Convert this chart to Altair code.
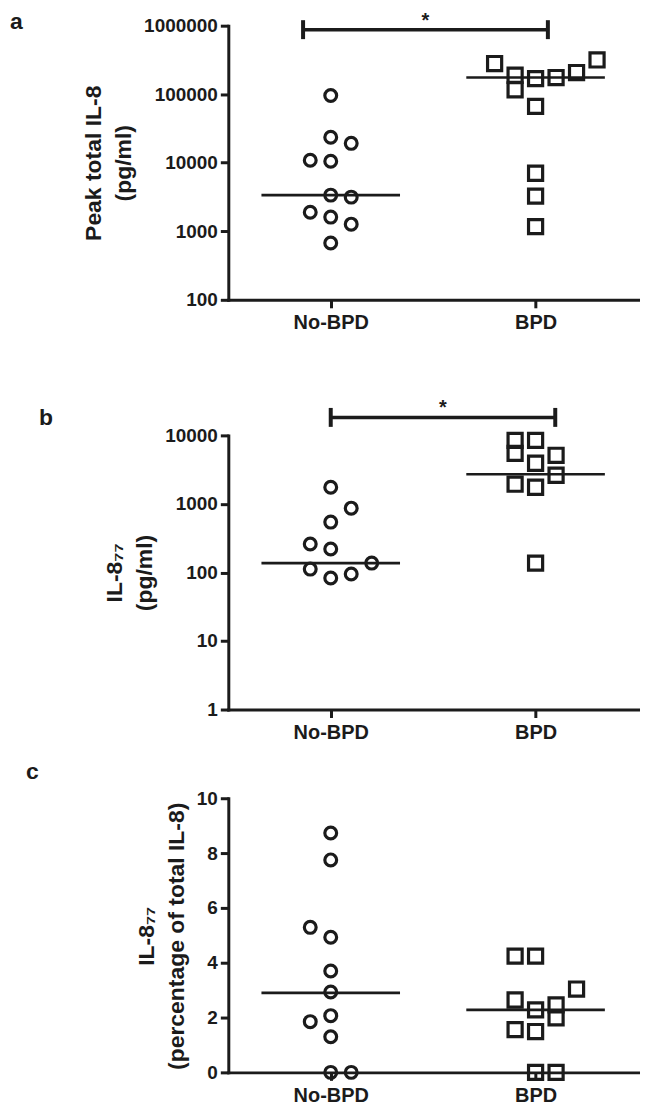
import altair as alt
import pandas as pd

CATEGORIES = ["No-BPD", "BPD"]
SHAPES = ["circle", "square"]

# ---- panel a : peak total IL-8 (pg/ml) ----
A_NOBPD = [96000, 23500, 19200, 10900, 10500, 3370, 3150, 1900, 1610, 1270, 675]
A_NOBPD_SLOT = [0, 0, 1, -1, 0, 0, 1, -1, 0, 1, 0]
A_BPD = [280000, 189000, 116000, 169000, 66400, 175000, 207000, 316000, 7030, 3260, 1170]
A_BPD_SLOT = [-2, -1, -1, 0, 0, 1, 2, 3, 0, 0, 0]
A_MEDIANS = [3370, 175000]
A_SIG = [0.865, 2.06, 875000]          # bar start, bar end, level
A_TICKS = [100, 1000, 10000, 100000, 1000000]

# ---- panel b : IL-8_77 (pg/ml) ----
B_NOBPD = [1750, 867, 543, 260, 220, 137, 112, 83, 95]
B_NOBPD_SLOT = [0, 1, 0, -1, 0, 2, -1, 0, 1]
B_BPD = [8460, 8460, 5470, 3920, 5120, 2620, 1940, 1750, 137]
B_BPD_SLOT = [-1, 0, -1, 0, 1, 1, -1, 0, 0]
B_MEDIANS = [137, 2710]
B_SIG = [1.0, 2.096, 18300]
B_TICKS = [1, 10, 100, 1000, 10000]

# ---- panel c : IL-8_77 (percentage of total IL-8) ----
C_NOBPD = [8.73, 7.75, 5.29, 4.93, 3.70, 2.93, 2.07, 1.85, 1.30, 0, 0]
C_NOBPD_SLOT = [0, 0, -1, 0, 0, 0, 0, -1, 0, 0, 1]
C_BPD = [4.24, 4.24, 3.04, 2.64, 2.46, 2.28, 1.99, 1.56, 1.49, 0, 0]
C_BPD_SLOT = [-1, 0, 2, -1, 1, 0, 1, -1, 0, 0, 1]
C_MEDIANS = [2.9, 2.28]
C_TICKS = [0, 2, 4, 6, 8, 10]

INK = "#1b1b1b"
FONT = "Liberation Sans"
LETTER_FONT = "Liberation Sans"
W = 411
SLOT_STEP = 0.1


def points_frame(nobpd, nobpd_slot, bpd, bpd_slot):
    rows = []
    for gi, (vals, slots) in enumerate([(nobpd, nobpd_slot), (bpd, bpd_slot)]):
        for v, s in zip(vals, slots):
            rows.append({"group": CATEGORIES[gi], "pos": gi + 1 + s * SLOT_STEP, "value": v})
    return pd.DataFrame(rows)


label_expr = " : ".join(
    f"datum.value == {i + 1} ? '{c}'" for i, c in enumerate(CATEGORIES)
) + " : ''"

XAXIS = dict(
    values=[1, 2], labelExpr=label_expr, title=None, grid=False,
    tickSize=8, tickWidth=3, tickColor=INK, domainWidth=3, domainColor=INK,
    domainCap="square", labelPadding=5, labelFont=FONT, labelFontSize=20,
    labelFontWeight="bold", labelColor=INK,
)

YAXIS = dict(
    grid=False, tickSize=8, tickWidth=3, tickColor=INK, domainWidth=3,
    domainColor=INK, domainCap="square", labelPadding=3, labelFont=FONT,
    labelFontSize=19, labelFontWeight="bold", labelColor=INK,
    titleFont=FONT, titleFontSize=23, titleFontWeight="bold", titleColor=INK,
    titleAngle=270, titleAlign="center", titleBaseline="middle",
    titleLineHeight=30,
)


def make_panel(letter, letter_xy, pts, medians, sig, yscale, yaxis_kw, height):
    xs = alt.Scale(domain=[0.5, 2.5], nice=False, zero=False)
    xax = alt.Axis(**XAXIS)
    yax = alt.Axis(**YAXIS, **yaxis_kw)

    def X(f):
        return alt.X(f, type="quantitative", scale=xs, axis=xax)

    def Y(f):
        return alt.Y(f, type="quantitative", scale=yscale, axis=yax)

    layers = []
    layers.append(
        alt.Chart(pts).mark_point(filled=False, strokeWidth=3.2, opacity=1, color=INK).encode(
            x=X("pos"), y=Y("value"),
            shape=alt.Shape("group:N", scale=alt.Scale(domain=CATEGORIES, range=SHAPES), legend=None),
            size=alt.Size("group:N", scale=alt.Scale(domain=CATEGORIES, range=[140, 200]), legend=None),
        )
    )
    med = pd.DataFrame({"pos": [1, 2], "median": medians})
    layers.append(
        alt.Chart(med).mark_tick(orient="horizontal", size=139, thickness=2.6,
                                 color=INK, opacity=1).encode(
            x=X("pos"), y=Y("median")
        )
    )
    if sig is not None:
        bar = pd.DataFrame({"x1": [sig[0]], "x2": [sig[1]], "level": [sig[2]]})
        layers.append(
            alt.Chart(bar).mark_rule(strokeWidth=3.5, color=INK, opacity=1).encode(
                x=X("x1"), x2=alt.X2("x2"), y=Y("level")
            )
        )
        caps = pd.DataFrame({"pos": [sig[0], sig[1]], "level": [sig[2], sig[2]]})
        layers.append(
            alt.Chart(caps).mark_tick(orient="vertical", size=19, thickness=4,
                                      color=INK, opacity=1).encode(
                x=X("pos"), y=Y("level")
            )
        )
        layers.append(
            alt.Chart(bar).transform_calculate(mid="(datum.x1 + datum.x2) / 2")
            .mark_text(text="*", font=FONT, fontSize=20, fontWeight="bold", color=INK,
                       baseline="alphabetic", dy=-3)
            .encode(x=X("mid"), y=Y("level"))
        )
    layers.append(
        alt.Chart(pd.DataFrame({"t": [letter]})).mark_text(
            align="left", baseline="alphabetic", font=LETTER_FONT, fontSize=23,
            fontWeight="bold", color=INK
        ).encode(text="t:N", x=alt.value(letter_xy[0]), y=alt.value(letter_xy[1]))
    )
    return alt.layer(*layers).properties(width=W, height=height)


panel_a = make_panel(
    "a", (-219, 3),
    points_frame(A_NOBPD, A_NOBPD_SLOT, A_BPD, A_BPD_SLOT), A_MEDIANS, A_SIG,
    alt.Scale(type="log", domain=[100, 1000000], nice=False),
    dict(values=A_TICKS, format="d", title=["Peak total IL-8", "(pg/ml)"],
         titleX=-135, titleY=137.5),
    275,
)

panel_b = make_panel(
    "b", (-190, 37),
    points_frame(B_NOBPD, B_NOBPD_SLOT, B_BPD, B_BPD_SLOT), B_MEDIANS, B_SIG,
    alt.Scale(type="log", domain=[1, 10000], nice=False, range=[322, 47]),
    dict(values=B_TICKS, format="d", title=["IL-8\u2087\u2087", "(pg/ml)"],
         titleX=-114, titleY=184.5),
    322,
)

panel_c = make_panel(
    "c", (-203, -19),
    points_frame(C_NOBPD, C_NOBPD_SLOT, C_BPD, C_BPD_SLOT), C_MEDIANS, None,
    alt.Scale(domain=[0, 10], nice=False, zero=True),
    dict(values=C_TICKS, format="d", title=["IL-8\u2087\u2087", "(percentage of total IL-8)"],
         titleX=-82, titleY=138),
    275,
)

chart = (
    alt.vconcat(panel_a, panel_b, panel_c, spacing=89, bounds="flush")
    .properties(padding={"left": 2, "top": 0, "right": 4, "bottom": 2})
    .configure_view(stroke=None)
)

chart.save("out.html", embed_options={"renderer": "svg", "actions": False})
